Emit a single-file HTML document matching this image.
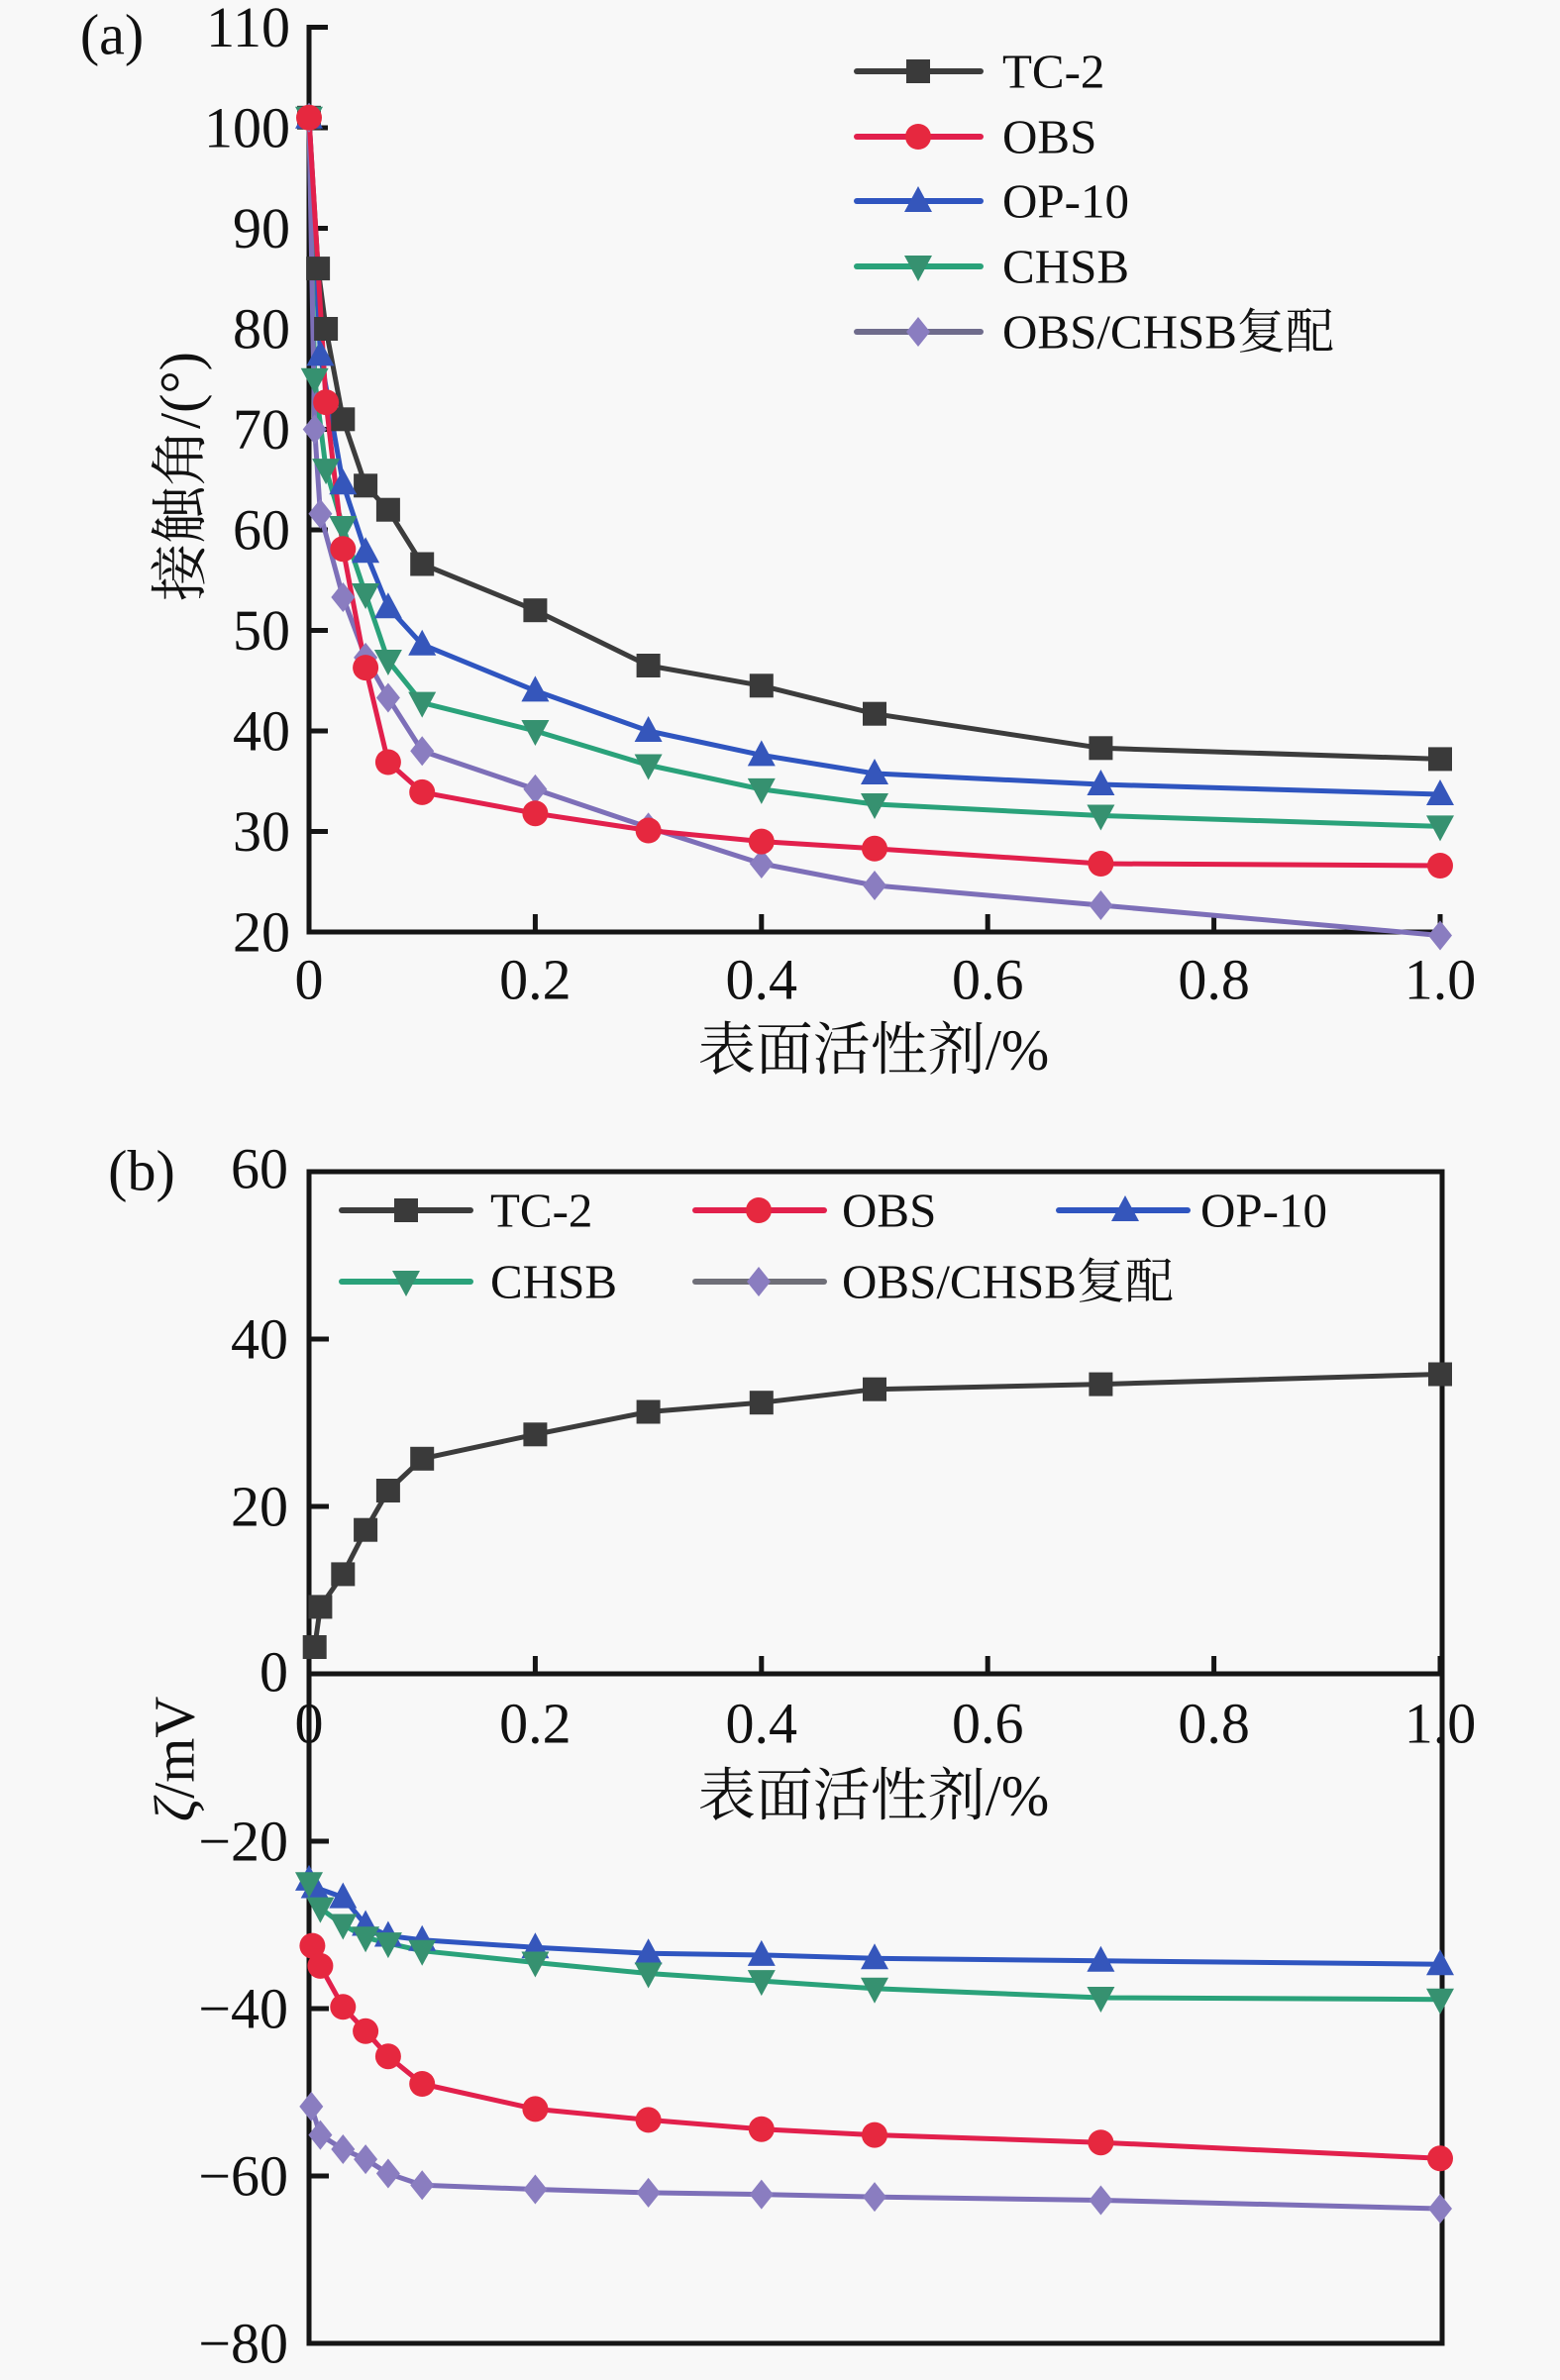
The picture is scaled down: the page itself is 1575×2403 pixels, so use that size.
<!DOCTYPE html>
<html>
<head>
<meta charset="utf-8">
<style>
html,body{margin:0;padding:0;background:#f8f8f8;}
svg{display:block;}
text{font-family:"Liberation Serif","Noto Serif CJK SC",serif;fill:#111;}
.t{font-size:58px;}
.lg{font-size:49px;}
</style>
</head>
<body>
<svg width="1575" height="2403" viewBox="0 0 1575 2403" xmlns="http://www.w3.org/2000/svg">
<defs>
  <rect id="sq" x="-12" y="-12" width="24" height="24"/>
  <circle id="ci" cx="0" cy="0" r="13"/>
  <polygon id="tu" points="0,-15 14,11 -14,11"/>
  <polygon id="td" points="0,15 14,-11 -14,-11"/>
  <polygon id="di" points="0,-15 12,0 0,15 -12,0"/>
</defs>
<rect x="0" y="0" width="1575" height="2403" fill="#f8f8f8"/>

<!-- ================= Panel (a) ================= -->
<text class="t" x="113" y="35" text-anchor="middle" dominant-baseline="central">(a)</text>

<!-- y tick labels -->
<g class="t" text-anchor="end" dominant-baseline="central">
  <text class="t" x="293" y="27.5" dominant-baseline="central" text-anchor="end">110</text>
  <text class="t" x="293" y="129" dominant-baseline="central" text-anchor="end">100</text>
  <text class="t" x="293" y="230.5" dominant-baseline="central" text-anchor="end">90</text>
  <text class="t" x="293" y="332" dominant-baseline="central" text-anchor="end">80</text>
  <text class="t" x="293" y="433.5" dominant-baseline="central" text-anchor="end">70</text>
  <text class="t" x="293" y="535" dominant-baseline="central" text-anchor="end">60</text>
  <text class="t" x="293" y="636.5" dominant-baseline="central" text-anchor="end">50</text>
  <text class="t" x="293" y="738" dominant-baseline="central" text-anchor="end">40</text>
  <text class="t" x="293" y="839.5" dominant-baseline="central" text-anchor="end">30</text>
  <text class="t" x="293" y="941" dominant-baseline="central" text-anchor="end">20</text>
</g>
<!-- x tick labels -->
<text class="t" x="312" y="989" text-anchor="middle" dominant-baseline="central">0</text>
<text class="t" x="540.4" y="989" text-anchor="middle" dominant-baseline="central">0.2</text>
<text class="t" x="768.8" y="989" text-anchor="middle" dominant-baseline="central">0.4</text>
<text class="t" x="997.2" y="989" text-anchor="middle" dominant-baseline="central">0.6</text>
<text class="t" x="1225.6" y="989" text-anchor="middle" dominant-baseline="central">0.8</text>
<text class="t" x="1454" y="989" text-anchor="middle" dominant-baseline="central">1.0</text>

<text class="t" x="882" y="1060" text-anchor="middle" dominant-baseline="central">表面活性剂/%</text>
<text class="t" x="0" y="0" text-anchor="middle" dominant-baseline="central" transform="translate(182,481) rotate(-90)">接触角/(°)</text>

<!-- axes (a) -->
<g stroke="#151515" stroke-width="5" fill="none">
  <line x1="312" y1="25" x2="312" y2="943.5"/>
  <line x1="309.5" y1="941" x2="1456" y2="941"/>
  <line x1="312" y1="27.5" x2="331" y2="27.5"/>
  <line x1="312" y1="129" x2="331" y2="129"/>
  <line x1="312" y1="230.5" x2="331" y2="230.5"/>
  <line x1="312" y1="332" x2="331" y2="332"/>
  <line x1="312" y1="433.5" x2="331" y2="433.5"/>
  <line x1="312" y1="535" x2="331" y2="535"/>
  <line x1="312" y1="636.5" x2="331" y2="636.5"/>
  <line x1="312" y1="738" x2="331" y2="738"/>
  <line x1="312" y1="839.5" x2="331" y2="839.5"/>
  <line x1="540.4" y1="941" x2="540.4" y2="923"/>
  <line x1="768.8" y1="941" x2="768.8" y2="923"/>
  <line x1="997.2" y1="941" x2="997.2" y2="923"/>
  <line x1="1225.6" y1="941" x2="1225.6" y2="923"/>
  <line x1="1454" y1="941" x2="1454" y2="923"/>
</g>

<!-- series (a) -->
<g fill="none" stroke-width="5" stroke-linejoin="round" stroke-linecap="round">
  <polyline stroke="#3c3c3c" points="312,118.8 321.1,271.1 329.1,332 346.3,423.3 369.1,490.3 391.9,514.7 426.2,569.5 540.4,616.2 654.6,672 768.8,692.3 883,720.7 1111.4,755.3 1454,766.4"/>
  <polyline stroke="#2f55c0" points="312,118.8 323.4,358.4 346.3,488.3 369.1,557.3 391.9,613.2 426.2,650.7 540.4,697.4 654.6,738 768.8,762.4 883,781 1111.4,792 1454,802"/>
  <polyline stroke="#2aa27a" points="312,118.8 317.7,382.7 329.1,474.1 346.3,532 369.1,600 391.9,667 426.2,709.6 540.4,738 654.6,772.5 768.8,796.9 883,812 1111.4,823.5 1454,834.4"/>
  <polyline stroke="#7d6fb8" points="312,118.8 317.7,433.5 323.4,518.8 346.3,603 369.1,663.9 391.9,704.5 426.2,758.3 540.4,796.9 654.6,835.4 768.8,872 883,894 1111.4,914 1454,944.5"/>
  <polyline stroke="#e2204c" points="312,118.8 329.1,406.1 346.3,554.3 369.1,674.1 391.9,769.5 426.2,799.9 540.4,821.2 654.6,838.5 768.8,849.6 883,856.8 1111.4,872 1454,874"/>
</g>
<g fill="#3a3a3a">
  <use href="#sq" x="312" y="118.8"/><use href="#sq" x="321.1" y="271.1"/><use href="#sq" x="329.1" y="332"/><use href="#sq" x="346.3" y="423.3"/><use href="#sq" x="369.1" y="490.3"/><use href="#sq" x="391.9" y="514.7"/><use href="#sq" x="426.2" y="569.5"/><use href="#sq" x="540.4" y="616.2"/><use href="#sq" x="654.6" y="672"/><use href="#sq" x="768.8" y="692.3"/><use href="#sq" x="883" y="720.7"/><use href="#sq" x="1111.4" y="755.3"/><use href="#sq" x="1454" y="766.4"/>
</g>
<g fill="#3556bb">
  <use href="#tu" x="312" y="118.8"/><use href="#tu" x="323.4" y="358.4"/><use href="#tu" x="346.3" y="488.3"/><use href="#tu" x="369.1" y="557.3"/><use href="#tu" x="391.9" y="613.2"/><use href="#tu" x="426.2" y="650.7"/><use href="#tu" x="540.4" y="697.4"/><use href="#tu" x="654.6" y="738"/><use href="#tu" x="768.8" y="762.4"/><use href="#tu" x="883" y="781"/><use href="#tu" x="1111.4" y="792"/><use href="#tu" x="1454" y="802"/>
</g>
<g fill="#369170">
  <use href="#td" x="312" y="118.8"/><use href="#td" x="317.7" y="382.7"/><use href="#td" x="329.1" y="474.1"/><use href="#td" x="346.3" y="532"/><use href="#td" x="369.1" y="600"/><use href="#td" x="391.9" y="667"/><use href="#td" x="426.2" y="709.6"/><use href="#td" x="540.4" y="738"/><use href="#td" x="654.6" y="772.5"/><use href="#td" x="768.8" y="796.9"/><use href="#td" x="883" y="812"/><use href="#td" x="1111.4" y="823.5"/><use href="#td" x="1454" y="834.4"/>
</g>
<g fill="#8a7dc0">
  <use href="#di" x="312" y="118.8"/><use href="#di" x="317.7" y="433.5"/><use href="#di" x="323.4" y="518.8"/><use href="#di" x="346.3" y="603"/><use href="#di" x="369.1" y="663.9"/><use href="#di" x="391.9" y="704.5"/><use href="#di" x="426.2" y="758.3"/><use href="#di" x="540.4" y="796.9"/><use href="#di" x="654.6" y="835.4"/><use href="#di" x="768.8" y="872"/><use href="#di" x="883" y="894"/><use href="#di" x="1111.4" y="914"/><use href="#di" x="1454" y="944.5"/>
</g>
<g fill="#e6283f">
  <use href="#ci" x="312" y="118.8"/><use href="#ci" x="329.1" y="406.1"/><use href="#ci" x="346.3" y="554.3"/><use href="#ci" x="369.1" y="674.1"/><use href="#ci" x="391.9" y="769.5"/><use href="#ci" x="426.2" y="799.9"/><use href="#ci" x="540.4" y="821.2"/><use href="#ci" x="654.6" y="838.5"/><use href="#ci" x="768.8" y="849.6"/><use href="#ci" x="883" y="856.8"/><use href="#ci" x="1111.4" y="872"/><use href="#ci" x="1454" y="874"/>
</g>

<!-- legend (a) -->
<g stroke-width="6" stroke-linecap="round">
  <line x1="865" y1="72" x2="990" y2="72" stroke="#3c3c3c"/>
  <line x1="865" y1="138" x2="990" y2="138" stroke="#e2204c"/>
  <line x1="865" y1="203" x2="990" y2="203" stroke="#2f55c0"/>
  <line x1="865" y1="269" x2="990" y2="269" stroke="#2aa27a"/>
  <line x1="865" y1="335" x2="990" y2="335" stroke="#6f6c8c"/>
</g>
<use href="#sq" x="927" y="72" fill="#3a3a3a"/>
<use href="#ci" x="927" y="138" fill="#e6283f"/>
<use href="#tu" x="927" y="203" fill="#3556bb"/>
<use href="#td" x="927" y="269" fill="#369170"/>
<use href="#di" x="927" y="335" fill="#8a7dc0"/>
<text class="lg" x="1012" y="72" dominant-baseline="central">TC-2</text>
<text class="lg" x="1012" y="138" dominant-baseline="central">OBS</text>
<text class="lg" x="1012" y="203" dominant-baseline="central">OP-10</text>
<text class="lg" x="1012" y="269" dominant-baseline="central">CHSB</text>
<text class="lg" x="1012" y="335" dominant-baseline="central">OBS/CHSB复配</text>

<!-- ================= Panel (b) ================= -->
<text class="t" x="143" y="1182" text-anchor="middle" dominant-baseline="central">(b)</text>

<text class="t" x="291" y="1180" text-anchor="end" dominant-baseline="central">60</text>
<text class="t" x="291" y="1352" text-anchor="end" dominant-baseline="central">40</text>
<text class="t" x="291" y="1521" text-anchor="end" dominant-baseline="central">20</text>
<text class="t" x="291" y="1688" text-anchor="end" dominant-baseline="central">0</text>
<text class="t" x="291" y="1859" text-anchor="end" dominant-baseline="central">−20</text>
<text class="t" x="291" y="2028" text-anchor="end" dominant-baseline="central">−40</text>
<text class="t" x="291" y="2197" text-anchor="end" dominant-baseline="central">−60</text>
<text class="t" x="291" y="2366" text-anchor="end" dominant-baseline="central">−80</text>

<text class="t" x="312" y="1740" text-anchor="middle" dominant-baseline="central">0</text>
<text class="t" x="540.4" y="1740" text-anchor="middle" dominant-baseline="central">0.2</text>
<text class="t" x="768.8" y="1740" text-anchor="middle" dominant-baseline="central">0.4</text>
<text class="t" x="997.2" y="1740" text-anchor="middle" dominant-baseline="central">0.6</text>
<text class="t" x="1225.6" y="1740" text-anchor="middle" dominant-baseline="central">0.8</text>
<text class="t" x="1454" y="1740" text-anchor="middle" dominant-baseline="central">1.0</text>

<text class="t" x="882" y="1813" text-anchor="middle" dominant-baseline="central">表面活性剂/%</text>
<text class="t" x="0" y="0" text-anchor="middle" dominant-baseline="central" transform="translate(176,1776) rotate(-90)"><tspan font-style="italic">ζ</tspan>/mV</text>

<!-- box (b) -->
<g stroke="#151515" stroke-width="5" fill="none">
  <rect x="312" y="1183" width="1144" height="1183"/>
  <line x1="312" y1="1690" x2="1456" y2="1690"/>
  <line x1="312" y1="1352" x2="332" y2="1352"/>
  <line x1="312" y1="1521" x2="332" y2="1521"/>
  <line x1="312" y1="1859" x2="332" y2="1859"/>
  <line x1="312" y1="2028" x2="332" y2="2028"/>
  <line x1="312" y1="2197" x2="332" y2="2197"/>
  <line x1="540.4" y1="1690" x2="540.4" y2="1672"/>
  <line x1="768.8" y1="1690" x2="768.8" y2="1672"/>
  <line x1="997.2" y1="1690" x2="997.2" y2="1672"/>
  <line x1="1225.6" y1="1690" x2="1225.6" y2="1672"/>
  <line x1="1454" y1="1690" x2="1454" y2="1672"/>
</g>

<!-- series (b) -->
<g fill="none" stroke-width="5" stroke-linejoin="round" stroke-linecap="round">
  <polyline stroke="#3c3c3c" points="317.7,1663 323.4,1622.4 346.3,1589.4 369.1,1544.7 391.9,1505 426.2,1472.8 540.4,1448.3 654.6,1425.5 768.8,1416.2 883,1402.7 1111.4,1397.6 1454,1387.5"/>
  <polyline stroke="#2aa27a" points="312,1901.3 323.4,1926.6 346.3,1943.5 369.1,1956.2 391.9,1962.1 426.2,1969.7 540.4,1981.5 654.6,1992.5 768.8,2000.1 883,2007.7 1111.4,2017 1454,2018.7"/>
  <polyline stroke="#2f55c0" points="312,1897.9 317.7,1905.5 346.3,1915.6 369.1,1943.5 391.9,1954.5 426.2,1958.7 540.4,1966.3 654.6,1972.2 768.8,1973.9 883,1977.3 1111.4,1979.8 1454,1983.2"/>
  <polyline stroke="#e2204c" points="315.4,1964.6 323.4,1984.9 346.3,2026.3 369.1,2050.8 391.9,2076.2 426.2,2104 540.4,2129.4 654.6,2140.4 768.8,2149.7 883,2155.6 1111.4,2163.2 1454,2179.3"/>
  <polyline stroke="#7d6fb8" points="314.3,2126.9 323.4,2155.6 346.3,2170 369.1,2180.1 391.9,2194.5 426.2,2206.3 540.4,2210.5 654.6,2213.9 768.8,2215.6 883,2218.1 1111.4,2221.5 1454,2230"/>
</g>
<g fill="#3a3a3a">
  <use href="#sq" x="317.7" y="1663"/><use href="#sq" x="323.4" y="1622.4"/><use href="#sq" x="346.3" y="1589.4"/><use href="#sq" x="369.1" y="1544.7"/><use href="#sq" x="391.9" y="1505"/><use href="#sq" x="426.2" y="1472.8"/><use href="#sq" x="540.4" y="1448.3"/><use href="#sq" x="654.6" y="1425.5"/><use href="#sq" x="768.8" y="1416.2"/><use href="#sq" x="883" y="1402.7"/><use href="#sq" x="1111.4" y="1397.6"/><use href="#sq" x="1454" y="1387.5"/>
</g>
<g fill="#3556bb">
  <use href="#tu" x="312" y="1897.9"/><use href="#tu" x="317.7" y="1905.5"/><use href="#tu" x="346.3" y="1915.6"/><use href="#tu" x="369.1" y="1943.5"/><use href="#tu" x="391.9" y="1954.5"/><use href="#tu" x="426.2" y="1958.7"/><use href="#tu" x="540.4" y="1966.3"/><use href="#tu" x="654.6" y="1972.2"/><use href="#tu" x="768.8" y="1973.9"/><use href="#tu" x="883" y="1977.3"/><use href="#tu" x="1111.4" y="1979.8"/><use href="#tu" x="1454" y="1983.2"/>
</g>
<g fill="#369170">
  <use href="#td" x="312" y="1901.3"/><use href="#td" x="323.4" y="1926.6"/><use href="#td" x="346.3" y="1943.5"/><use href="#td" x="369.1" y="1956.2"/><use href="#td" x="391.9" y="1962.1"/><use href="#td" x="426.2" y="1969.7"/><use href="#td" x="540.4" y="1981.5"/><use href="#td" x="654.6" y="1992.5"/><use href="#td" x="768.8" y="2000.1"/><use href="#td" x="883" y="2007.7"/><use href="#td" x="1111.4" y="2017"/><use href="#td" x="1454" y="2018.7"/>
</g>
<g fill="#e6283f">
  <use href="#ci" x="315.4" y="1964.6"/><use href="#ci" x="323.4" y="1984.9"/><use href="#ci" x="346.3" y="2026.3"/><use href="#ci" x="369.1" y="2050.8"/><use href="#ci" x="391.9" y="2076.2"/><use href="#ci" x="426.2" y="2104"/><use href="#ci" x="540.4" y="2129.4"/><use href="#ci" x="654.6" y="2140.4"/><use href="#ci" x="768.8" y="2149.7"/><use href="#ci" x="883" y="2155.6"/><use href="#ci" x="1111.4" y="2163.2"/><use href="#ci" x="1454" y="2179.3"/>
</g>
<g fill="#8a7dc0">
  <use href="#di" x="314.3" y="2126.9"/><use href="#di" x="323.4" y="2155.6"/><use href="#di" x="346.3" y="2170"/><use href="#di" x="369.1" y="2180.1"/><use href="#di" x="391.9" y="2194.5"/><use href="#di" x="426.2" y="2206.3"/><use href="#di" x="540.4" y="2210.5"/><use href="#di" x="654.6" y="2213.9"/><use href="#di" x="768.8" y="2215.6"/><use href="#di" x="883" y="2218.1"/><use href="#di" x="1111.4" y="2221.5"/><use href="#di" x="1454" y="2230"/>
</g>

<!-- legend (b) -->
<g stroke-width="6" stroke-linecap="round">
  <line x1="345" y1="1222" x2="475" y2="1222" stroke="#3c3c3c"/>
  <line x1="702" y1="1222" x2="832" y2="1222" stroke="#e2204c"/>
  <line x1="1069" y1="1222" x2="1199" y2="1222" stroke="#2f55c0"/>
  <line x1="345" y1="1294" x2="475" y2="1294" stroke="#2aa27a"/>
  <line x1="702" y1="1294" x2="832" y2="1294" stroke="#6f6f78"/>
</g>
<use href="#sq" x="410" y="1222" fill="#3a3a3a"/>
<use href="#ci" x="766" y="1222" fill="#e6283f"/>
<use href="#tu" x="1136" y="1222" fill="#3556bb"/>
<use href="#td" x="410" y="1294" fill="#369170"/>
<use href="#di" x="766" y="1294" fill="#8a7dc0"/>
<text class="lg" x="495" y="1222" dominant-baseline="central">TC-2</text>
<text class="lg" x="850" y="1222" dominant-baseline="central">OBS</text>
<text class="lg" x="1212" y="1222" dominant-baseline="central">OP-10</text>
<text class="lg" x="495" y="1294" dominant-baseline="central">CHSB</text>
<text class="lg" x="850" y="1294" dominant-baseline="central">OBS/CHSB复配</text>
</svg>
</body>
</html>
